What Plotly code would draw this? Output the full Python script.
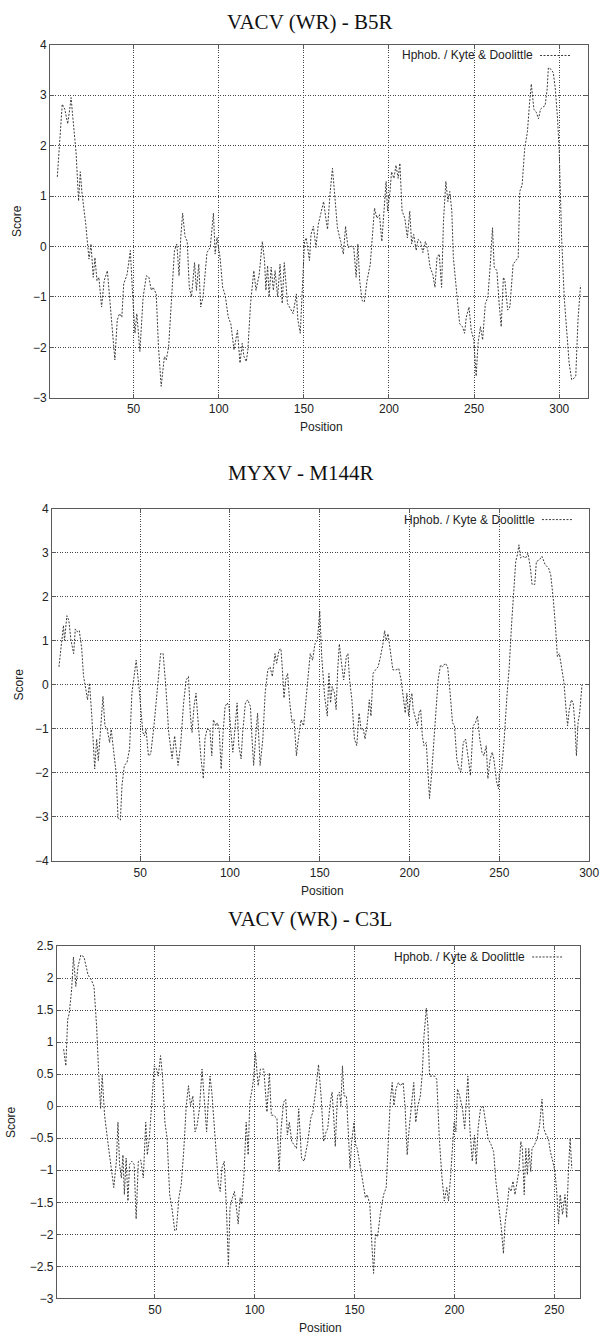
import plotly.graph_objects as go

# ---------------- data ----------------
titles = ["VACV (WR) - B5R", "MYXV - M144R", "VACV (WR) - C3L"]
legend_label = "Hphob. / Kyte & Doolittle"
x_label = "Position"
y_label = "Score"

pos_b5r = [5.2, 8.1, 9.6, 11.3, 12.5, 13.3, 14.2, 16.2, 17.7, 18.7, 19.6, 21.9, 23.8, 25, 26.3, 27.3, 28.5, 29.6,
           31.2, 32.7, 34.6, 36.5, 39, 40.4, 41.7, 43.1, 44.2, 46.2, 48.1, 49.4, 50.8, 51.9, 53.7, 55.6, 57.5, 59,
           60.4, 61.5, 63.3, 64.6, 66.2, 68.1, 69.2, 70.6, 72.1, 74, 75.4, 76.7, 77.7, 78.8, 80.2, 81.5, 82.7, 84,
           85.8, 86.9, 88.3, 89.4, 90.8, 93.1, 95, 96.9, 97.9, 99, 100.8, 102.3, 103.8, 105.6, 107.1, 109, 111,
           112.5, 113.8, 114.8, 116.2, 117.1, 118.7, 120.6, 121.9, 123.8, 125.6, 126.9, 127.7, 128.7, 129.6, 130.8,
           132.1, 133.1, 134.6, 136, 137.3, 138.5, 140.4, 143.7, 145.6, 146.5, 147.9, 149, 150.4, 151.4, 153.3,
           154.2, 155.6, 157.1, 158.5, 160, 161.6, 162.9, 163.9, 165.4, 166.8, 168.1, 169.7, 171.6, 173.2, 174.5,
           175.9, 177.8, 179.3, 180.7, 181.7, 182.8, 184.2, 185.5, 187.1, 189, 190.3, 191.5, 192.9, 194.4, 195.8,
           197.1, 198.3, 199.2, 200.6, 201.5, 202.9, 204.1, 205.4, 206.4, 207.7, 209.3, 210.8, 212.2, 213.3, 214.5,
           216, 217, 218.5, 219.9, 221.4, 222.8, 224.1, 225.7, 227, 228.2, 229.5, 230.9, 232, 233.4, 234.6, 235.7,
           236.9, 237.8, 238.8, 240.2, 241.5, 243.1, 244.4, 245.4, 247, 248.3, 249.8, 251.2, 252.3, 253.7, 255,
           256.6, 258.1, 259.5, 260.8, 261.8, 263.4, 264.7, 265.9, 267.2, 268.1, 269.7, 271, 272.9, 274.3, 275.9,
           276.8, 278.2, 279.7, 281.3, 282.6, 283.6, 285.1, 286.5, 287.8, 289, 290.3, 291.7, 292.9, 293.6, 295.2,
           296.5, 297.7, 299, 300, 301.4, 302.9, 304.4, 305.8, 307.3, 308.7, 309.7, 311, 312.5]
score_b5r = [1.38, 2.82, 2.72, 2.43, 2.72, 2.95, 2.6, 1.87, 0.9, 1.48, 1.09, 0.44, -0.25, 0.05, -0.61, -0.22, -0.68,
             -0.61, -1.2, -0.68, -0.48, -1.26, -2.25, -1.46, -1.33, -1.4, -0.74, -0.55, -0.08, -0.94, -1.72, -1.33,
             -2.08, -1.0, -0.58, -0.61, -0.87, -0.81, -0.94, -1.98, -2.77, -2.18, -2.25, -1.98, -1.13, -0.08, 0.05,
             -0.58, 0.18, 0.66, 0.2, 0.1, -0.81, -1.0, -0.32, -0.87, -0.35, -1.2, -1.0, -0.12, -0.02, 0.66, -0.15,
             0.18, -0.22, -0.81, -0.97, -1.4, -1.53, -2.05, -1.66, -2.31, -1.92, -2.18, -2.28, -2.05, -1.13, -0.48,
             -0.87, -0.55, 0.1, -0.28, -0.87, -0.38, -1.0, -0.41, -0.87, -0.48, -1.0, -0.35, -1.13, -0.32, -1.13,
             -1.33, -0.94, -1.46, -1.72, -1.0, 0.1, 0.17, -0.28, 0.24, 0.4, -0.02, 0.44, 0.66, 0.89, 0.56, 0.34,
             1.06, 1.55, 1.03, 0.37, 0.1, -0.15, 0.4, -0.02, 0.01, -0.02, -0.61, 0.05, -0.68, -1.07, -1.1, -0.68,
             -0.35, 0.3, 0.76, 0.56, 0.63, 0.1, 0.82, 1.29, 0.7, 1.09, 1.48, 1.35, 1.61, 1.35, 1.65, 0.7, 0.56,
             0.17, 0.7, 0.05, 0.24, -0.08, 0.14, 0.1, -0.12, 0.1, -0.08, -0.41, -0.55, -0.81, -0.22, -0.15, -0.81,
             0.5, 1.29, 0.89, 1.09, 0.7, -0.22, -0.61, -1.13, -1.53, -1.59, -1.72, -1.4, -1.2, -1.66, -1.85, -2.57,
             -1.92, -1.59, -1.85, -1.13, -1.0, -0.35, 0.37, -0.41, -0.48, -1.13, -1.59, -0.61, -0.68, -1.26, -1.2,
             -0.35, -0.28, -0.22, 1.09, 1.22, 1.94, 2.27, 2.86, 3.22, 2.72, 2.66, 2.53, 2.72, 2.76, 2.79, 3.12,
             3.54, 3.51, 3.44, 3.12, 2.53, 1.87, 0.17, -1.0, -1.79, -2.31, -2.64, -2.61, -2.57, -1.46, -0.77]

pos_m144r = [4.8, 6.4, 7.3, 7.9, 9.2, 10.3, 11.5, 13, 13.9, 15.2, 16.1, 17.4, 18.5, 19.8, 20.7, 21.8, 23.1, 24.7,
             25.8, 26.7, 28, 29.3, 30.4, 31.7, 33, 33.9, 35.3, 36.6, 37.7, 39, 39.9, 41.2, 42.7, 44.1, 45.4, 46.7,
             47.8, 49.5, 50.4, 51.5, 52.4, 53.3, 54.6, 55.9, 57.7, 59.5, 61.4, 62.8, 64.3, 65.9, 67.8, 69.2, 71.1,
             72.5, 74.2, 75.6, 76.9, 78, 78.9, 80, 81.1, 82.6, 83.9, 85.2, 86.1, 87.2, 88.8, 89.9, 90.8, 92.1, 93,
             94, 95.1, 96.2, 97.3, 98.5, 99.5, 100.4, 101.6, 102.6, 104, 104.9, 106.2, 107.1, 108.6, 109.9, 111.4,
             112.3, 113.2, 114.5, 115.4, 116.8, 118.3, 119.6, 121.1, 122.3, 123.6, 125.1, 126, 127.3, 128.4, 129.1,
             130.1, 131, 132.1, 133.3, 134.6, 135.7, 137, 138.3, 139.6, 141, 143.2, 144.7, 146, 147.3, 148.7, 150,
             151.1, 152.7, 154.2, 155.1, 156, 156.9, 158.2, 159.1, 160, 160.9, 161.9, 163.3, 164.8, 165.7, 166.6,
             167.9, 169.3, 170.6, 171.9, 173, 174.3, 175.2, 176.5, 177.6, 178.5, 179.7, 181, 182.5, 183.8, 185.2,
             186.1, 187, 188, 189.2, 190.7, 192.5, 194, 195.3, 196.7, 197.6, 198.5, 199.5, 200.2, 201.3, 202,
             203.1, 204.4, 205.3, 206.2, 207.1, 208, 209.3, 210.4, 211.1, 212.2, 213.5, 214.8, 215.9, 217.2, 218.4,
             219.9, 221.2, 222.6, 223.9, 225, 226.3, 227.6, 228.6, 229.9, 231.2, 232.7, 233.9, 235.4, 236.7, 237.8,
             239.1, 240.3, 241.4, 242.7, 243.6, 244.9, 246, 246.9, 247.6, 248.5, 249.5, 250, 251.3, 252.7, 254.2,
             255.5, 256.8, 257.8, 259.1, 260, 260.9, 261.8, 263.1, 264.6, 265.9, 267.3, 268.2, 269.7, 270.6, 272.3,
             273.7, 275.5, 277.4, 278.6, 280.1, 281.4, 282.3, 283.4, 284.7, 286, 287.1, 288, 288.9, 290.1, 291.1,
             292, 292.9, 293.8, 294.7, 296]
score_m144r = [0.41, 1.09, 1.35, 1.01, 1.57, 1.46, 1.01, 0.71, 1.27, 1.2, 1.23, 0.86, 0.19, -0.11, -0.34, 0.04,
               -0.71, -1.91, -1.23, -1.72, -1.01, -0.26, -0.93, -1.01, -1.31, -1.01, -1.53, -1.98, -3.03, -3.07,
               -2.28, -1.83, -1.76, -1.46, -0.19, 0.26, 0.56, -0.11, -0.49, -1.08, -1.16, -1.01, -1.61, -1.57, -0.93,
               -0.04, 0.71, 0.71, -0.04, -1.08, -1.68, -1.16, -1.83, -1.38, -0.41, 0.11, 0.19, -0.71, -1.08, -0.49,
               -0.19, -1.01, -1.68, -2.13, -1.23, -1.01, -1.01, -1.61, -0.79, -0.93, -0.86, -1.01, -1.91, -1.08,
               -0.49, -0.41, -0.49, -1.01, -1.53, -1.08, -0.41, -1.38, -1.68, -1.08, -0.41, -0.34, -0.49, -1.23,
               -1.83, -1.08, -0.64, -1.83, -1.23, -0.19, 0.34, 0.41, 0.19, 0.71, 0.49, 0.79, 0.82, 0.41, -0.3, 0.11,
               0.26, -0.41, -0.86, -0.79, -1.61, -1.16, -0.79, -0.93, -0.04, 0.71, 0.56, 0.93, 1.01, 1.68, 0.64,
               -0.26, -0.71, 0.26, -0.41, -0.04, -0.19, -0.56, 0.34, 0.93, 0.56, 0.11, 0.64, 0.71, 0.11, -0.34,
               -1.23, -1.38, -0.64, -1.01, -1.01, -1.23, -0.86, -0.34, -0.71, 0.26, 0.34, 0.41, 0.64, 0.93, 1.23,
               1.01, 1.16, 0.79, 0.34, 0.34, 0.37, 0.11, -0.41, -0.64, -0.19, -0.71, -0.41, -0.19, -0.56, -0.71,
               -0.93, -0.64, -0.56, -1.16, -1.38, -1.31, -1.98, -2.58, -2.06, -1.23, -0.49, 0.11, 0.45, 0.41, 0.49,
               0.41, -0.19, -0.86, -0.93, -1.68, -1.91, -1.98, -1.31, -1.23, -1.68, -2.06, -0.93, -0.86, -0.71,
               -1.23, -1.53, -1.61, -1.38, -2.13, -1.68, -1.53, -1.68, -1.98, -2.21, -2.36, -1.98, -1.91, -1.23,
               -0.26, 0.41, 1.38, 2.13, 2.8, 2.95, 3.18, 2.88, 2.92, 2.88, 2.99, 2.65, 2.28, 2.28, 2.8, 2.84, 2.92,
               2.73, 2.65, 2.5, 1.91, 1.23, 0.64, 0.71, 0.34, 0.04, -0.56, -0.93, -0.56, -0.34, -0.41, -0.86,
               -1.61, -0.86, -0.64, 0.0]

pos_c3l = [4.3, 5.4, 6.3, 7.1, 8.3, 9.2, 10.4, 11.5, 12.9, 14.5, 16.5, 18.2, 19.5, 20.8, 21.9, 22.8, 23.6, 24.8,
           26.4, 28.1, 29.4, 30.7, 31.5, 32.3, 33.2, 34, 34.7, 35.6, 36.5, 37.3, 38.4, 39.6, 40.6, 41.7, 42.9,
           44.2, 45.4, 46.2, 47.2, 48, 48.8, 49.7, 50.8, 51.7, 52.8, 53.8, 55, 56.1, 57.4, 58.7, 59.9, 60.7, 62,
           63.2, 64.4, 65.7, 66.8, 67.8, 69, 70.1, 71.1, 72.3, 73.6, 74.8, 75.9, 76.7, 77.6, 78.5, 79.7, 80.9,
           81.8, 82.7, 83.5, 84.7, 85.8, 86.8, 87.6, 88.8, 89.8, 90.8, 91.7, 92.6, 93.4, 94.6, 95.7, 96.7, 97.5,
           98.7, 99.5, 100.3, 101.7, 102.8, 104.5, 106.1, 107.3, 108.3, 109.4, 111.1, 112.2, 113.2, 114.4, 115.5,
           116.3, 117.3, 118.5, 119.6, 120.9, 122, 123.4, 124.7, 126.6, 128, 129.1, 130.4, 131.9, 133.2, 134.5,
           135.7, 136.5, 137.8, 138.7, 139.5, 140.3, 141.4, 142.4, 143.1, 143.9, 144.7, 145.9, 146.9, 147.7,
           148.5, 149.7, 150.5, 151.3, 153, 154.6, 155.4, 156.3, 157.6, 158.7, 159.5, 160.4, 161.5, 162.8, 164.5,
           165.8, 166.9, 167.8, 168.8, 169.7, 170.7, 171.9, 173, 174.3, 175.3, 176.3, 177.3, 178.5, 179.6, 180.6,
           181.7, 182.9, 183.9, 184.7, 185.9, 186.7, 187.5, 188.8, 190, 191.1, 192.4, 193.6, 194.9, 196.1, 197,
           198, 199, 199.8, 200.7, 201.5, 202.6, 204, 205.1, 205.9, 206.7, 207.7, 208.9, 210, 210.9, 211.8, 213,
           214.3, 215.5, 216.8, 218.3, 219.6, 220.7, 222, 223.4, 224.5, 225.3, 226.5, 227.3, 228.3, 229.3, 230.3,
           231.3, 232.2, 233.2, 234, 234.9, 235.7, 236.5, 237.2, 238.2, 238.8, 240.1, 241.4, 242.6, 243.8, 244.7,
           245.9, 247, 248, 249.2, 250.3, 251.3, 252.1, 252.9, 254.1, 255.3, 256.2, 257.1, 257.9, 258.7]
score_c3l = [0.89, 0.63, 1.35, 1.45, 1.82, 2.33, 1.87, 2.18, 2.36, 2.33, 2.05, 1.97, 1.87, 1.25, 0.48, -0.04, 0.48,
             -0.14, -0.55, -0.97, -1.27, -0.86, -0.25, -0.91, -1.12, -0.76, -1.38, -0.81, -1.48, -0.91, -0.86,
             -0.91, -1.76, -0.86, -0.84, -1.12, -0.25, -0.76, -0.5, -0.14, 0.16, 0.63, 0.58, 0.47, 0.79, 0.47,
             -0.25, -0.5, -1.38, -1.63, -1.94, -1.94, -1.43, -1.22, -0.71, 0.01, 0.32, 0.01, 0.16, -0.4, -0.3,
             -0.04, 0.58, 0.01, -0.4, 0.06, 0.47, 0.22, -0.3, -0.91, -1.22, -1.33, -0.97, -0.86, -1.58, -2.51,
             -1.58, -1.43, -1.33, -1.58, -1.84, -1.43, -1.53, -1.07, -0.25, -0.76, 0.06, 0.27, 0.47, 0.84, 0.32,
             0.58, 0.58, -0.09, 0.52, -0.14, -0.14, -0.19, -1.02, -0.35, 0.06, 0.11, -0.45, -0.25, -0.55, -0.6,
             -0.66, -0.04, -0.81, -0.86, -0.55, -0.19, -0.09, 0.22, 0.65, 0.16, -0.55, -0.4, -0.35, 0.06, 0.22,
             -0.14, -0.63, 0.16, 0.22, 0.01, 0.63, 0.16, 0.16, -0.45, -0.97, -0.55, -0.25, -0.6, -0.66, -0.97,
             -1.27, -1.43, -1.38, -1.53, -2.2, -2.61, -1.99, -2.04, -1.69, -1.38, -1.27, -0.55, 0.06, 0.37, 0.01,
             0.27, 0.37, 0.32, 0.37, -0.04, -0.76, -0.35, 0.06, 0.37, -0.25, 0.01, 0.16, 0.52, 1.09, 1.53, 1.25,
             0.47, 0.47, 0.47, 0.42, -0.5, -1.07, -1.48, -1.27, -1.48, -1.12, -0.55, -0.25, -0.4, 0.27, 0.16,
             -0.04, -0.35, 0.01, 0.47, -0.35, -0.86, -0.45, -0.91, -0.35, -0.04, 0.01, -0.25, -0.5, -0.6, -0.71,
             -1.17, -1.53, -1.89, -2.3, -1.84, -1.53, -1.27, -1.33, -1.17, -1.38, -1.17, -1.02, -0.55, -0.66,
             -1.38, -0.66, -1.07, -0.66, -1.02, -0.66, -0.6, -0.5, -0.3, 0.11, -0.35, -0.45, -0.5, -0.71, -0.86,
             -1.02, -1.38, -1.84, -1.38, -1.69, -1.38, -1.74, -0.97, -0.5, -0.97]

x_ranges = [[1, 317], [1, 300], [1, 263]]
y_ranges = [[-3, 4], [-4, 4], [-3, 2.5]]
y_dticks = [1, 1, 0.5]
x_dtick = 50

series = [(pos_b5r, score_b5r), (pos_m144r, score_m144r), (pos_c3l, score_c3l)]

# ---------------- layout geometry (pixels) ----------------
W, H = 610, 1341
boxes = [  # left, right, top, bottom (px)
    (51, 598, 38, 395),
    (53, 599, 507, 863),
    (58, 590, 949, 1305),
]
title_y = [15, 471, 922]
title_x = [315, 306, 315]
legend_y = [49, 518, 960]
legend_text_right = [544, 546, 536]
legend_line = [(549, 581), (551, 583), (541, 573)]
pos_label_y = [424, 893, 1335]
score_label_x = [18, 19, 11]

SANS = "Liberation Sans, Arial, sans-serif"
SERIF = "Liberation Serif, Times New Roman, serif"
TXT = "#222222"

fig = go.Figure()
annotations = []
shapes = []

for i, ((xs, ys), (l, r, t, b)) in enumerate(zip(series, boxes)):
    n = "" if i == 0 else str(i + 1)
    fig.add_trace(go.Scatter(
        x=xs, y=ys, mode="lines", name=legend_label, showlegend=False,
        line=dict(color="#3c3c3c", width=1, dash="2px,1.5px"),
        xaxis="x" + n, yaxis="y" + n,
    ))
    common = dict(
        showline=True, linecolor="#5a5a5a", linewidth=1.3, mirror="ticks",
        ticks="inside", ticklen=4, tickcolor="#5a5a5a",
        showgrid=True, gridcolor="#444444", gridwidth=1, griddash="1px,1.5px",
        zeroline=False, tickfont=dict(family=SANS, size=12, color=TXT),
    )
    fig.update_layout(**{
        "xaxis" + n: dict(common, domain=[l / W, r / W], anchor="y" + n,
                          range=x_ranges[i], tickmode="linear", tick0=0, dtick=x_dtick),
        "yaxis" + n: dict(common, domain=[1 - b / H, 1 - t / H], anchor="x" + n,
                          range=y_ranges[i], tickmode="linear", tick0=0, dtick=y_dticks[i]),
    })
    annotations.append(dict(text=titles[i], x=title_x[i] / W, y=1 - title_y[i] / H, xref="paper", yref="paper",
                            showarrow=False, xanchor="center", yanchor="middle",
                            font=dict(family=SERIF, size=21, color="#111111")))
    annotations.append(dict(text=legend_label, x=legend_text_right[i] / W, y=1 - legend_y[i] / H,
                            xref="paper", yref="paper", showarrow=False, xanchor="right", yanchor="middle",
                            font=dict(family=SANS, size=12, color=TXT)))
    annotations.append(dict(text=x_label, x=((l + r) / 2 + 2) / W, y=1 - pos_label_y[i] / H,
                            xref="paper", yref="paper", showarrow=False, xanchor="center", yanchor="middle",
                            font=dict(family=SANS, size=12, color=TXT)))
    annotations.append(dict(text=y_label, x=score_label_x[i] / W, y=1 - ((t + b) / 2) / H,
                            xref="paper", yref="paper", showarrow=False, xanchor="center", yanchor="middle",
                            textangle=-90, font=dict(family=SANS, size=12, color=TXT)))
    x0, x1 = legend_line[i]
    shapes.append(dict(type="line", xref="paper", yref="paper", x0=x0 / W, x1=x1 / W,
                       y0=1 - legend_y[i] / H, y1=1 - legend_y[i] / H,
                       line=dict(color="#3c3c3c", width=1, dash="2px,1.5px")))

fig.update_layout(
    width=W, height=H, margin=dict(l=0, r=0, t=0, b=0),
    paper_bgcolor="white", plot_bgcolor="white",
    annotations=annotations, shapes=shapes, showlegend=False,
)

fig.write_html("out.html")
